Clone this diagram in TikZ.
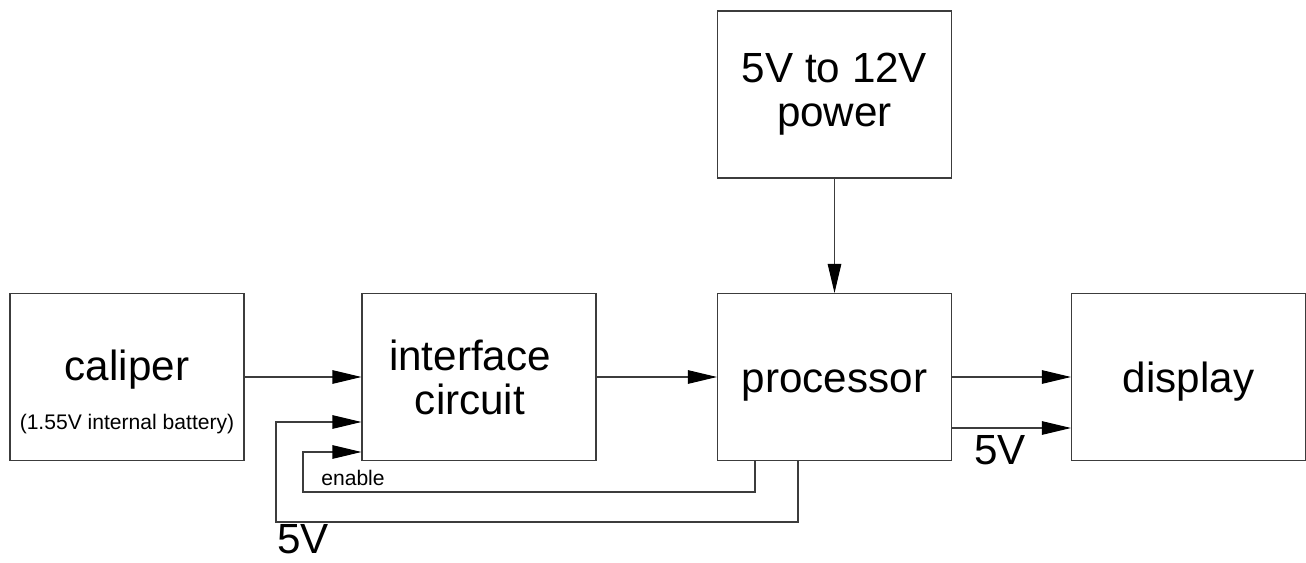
\documentclass[tikz,border=0pt]{standalone}
\usepackage{fontspec}
\setmainfont{Liberation Sans}
\usetikzlibrary{arrows.meta}
\definecolor{lineGray}{RGB}{60, 60, 60}

\begin{document}
\begin{tikzpicture}[
    block/.style={draw=lineGray, line width=0.6pt, minimum width=4.68cm, minimum height=3.34cm,
      align=center, font=\fontsize{24}{25}\selectfont, inner sep=0pt},
    oneline/.style={text height=0.6cm, text depth=0pt},
    arr/.style={line width=0.6pt, draw=lineGray, -{Triangle[length=0.58cm, width=0.27cm, black]}},
    small/.style={font=\fontsize{12}{14}\selectfont, inner sep=0pt, anchor=base},
    big/.style={font=\fontsize{24}{25}\selectfont, inner sep=0pt, anchor=base}
  ]
        \useasboundingbox (0,0) rectangle (26.12,-11.26);
        % blocks
        \node[block] (caliper) at (2.54,-7.54) {};
        \node[big] (caliperText) at (2.54,-7.6) {caliper};
        \node[small] (caliperNote) at (2.54,-8.58) {(1.55V internal battery)};
        \node[block] (interface) at (9.58,-7.54) {\hspace*{-0.36cm}interface\\\hspace*{-0.36cm}circuit};
        \node[block, oneline] (processor) at (16.69,-7.54) {processor};
        \node[block, oneline] (display) at (23.77,-7.54) {display};
        \node[block] (power) at (16.69,-1.89) {5V to 12V\\power};
        % signal paths
        \draw[arr] (caliper.east) -- (interface.west);
        \draw[arr] (interface.east) -- (processor.west);
        \draw[arr] (processor.east) -- (display.west);
        \draw[arr] ([yshift=-1.02cm]processor.east) -- ([yshift=-1.02cm]display.west);
        \draw[arr] (power.south) -- (processor.north);
        % return lines
        \coordinate (fiveTurn) at (5.52,-10.44);
        \coordinate (enableTurn) at (6.06,-9.84);
        \draw[arr] ([xshift=-0.73cm]processor.south) |- (fiveTurn) |- ([yshift=-0.9cm]interface.west);
        \draw[arr] ([xshift=-1.59cm]processor.south) |- (enableTurn) |- ([yshift=-1.5cm]interface.west);
        % labels
        \node[big] (fiveLow) at (6.06,-11.06) {5V};
        \node[small] (enableLabel) at (7.06,-9.7) {enable};
        \node[big] (fiveRight) at (20.0,-9.28) {5V};
      \end{tikzpicture}
\end{document}
